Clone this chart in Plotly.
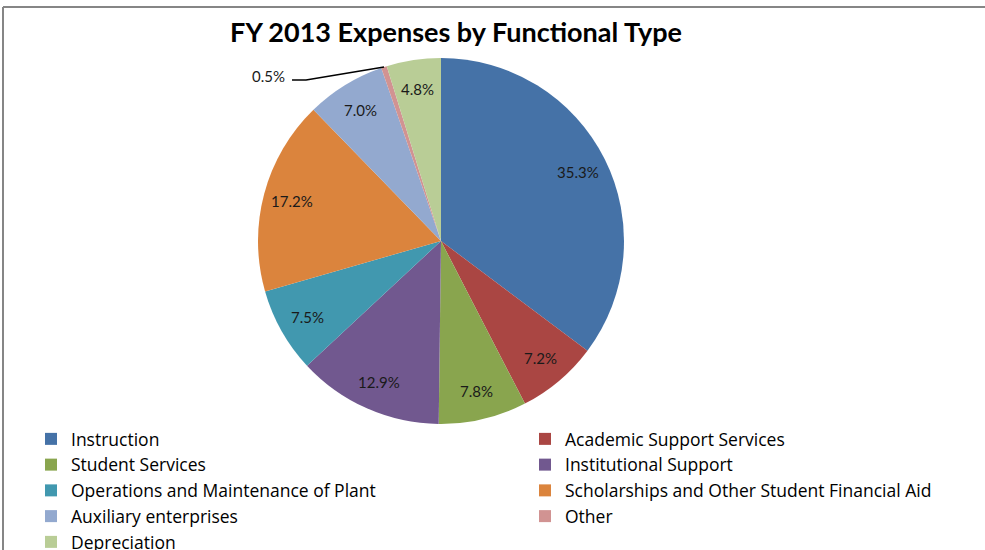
import math
import plotly.graph_objects as go

W, H = 985, 550

categories = [
    "Instruction",
    "Academic Support Services",
    "Student Services",
    "Institutional Support",
    "Operations and Maintenance of Plant",
    "Scholarships and Other Student Financial Aid",
    "Auxiliary enterprises",
    "Other",
    "Depreciation",
]
percent_values = [35.3, 7.2, 7.8, 12.9, 7.5, 17.2, 7.0, 0.5, 4.8]
slice_colors = [
    "#4572A7", "#AA4643", "#89A54E", "#71588F", "#4198AF",
    "#DB843D", "#93A9CF", "#D19392", "#B9CD96",
]
title_text = "FY 2013 Expenses by Functional Type"

# pie geometry in pixels (top-left origin)
cx, cy, r = 441, 241, 183
LABEL_R = 0.84 * r
FONT = "Lato, 'Open Sans', sans-serif"
LEGEND_FONT = "'Open Sans', Lato, sans-serif"


def px_x(x):
    return x / W


def px_y(y):
    return 1 - y / H


texts = [f"{v:.1f}%" for v in percent_values]
small = categories.index("Other")

fig = go.Figure(
    go.Pie(
        labels=categories,
        values=percent_values,
        textinfo="none",
        marker=dict(colors=slice_colors, line=dict(width=0)),
        sort=False,
        direction="clockwise",
        rotation=0,
        domain=dict(x=[px_x(cx - r), px_x(cx + r)], y=[px_y(cy + r), px_y(cy - r)]),
        showlegend=True,
        hovertemplate="%{label}: %{value:.1f}%<extra></extra>",
    )
)

# percentage labels placed at each slice's mid-angle
total = sum(percent_values)
label_font = dict(family=FONT, size=15, color="#1a1a1a")
start = 0.0
for i, v in enumerate(percent_values):
    ang = 2 * math.pi * (start + v / 2) / total
    start += v
    if i == small:
        # tiny slice: label outside with a leader line from the arc
        ex, ey = cx + r * math.sin(ang), cy - r * math.cos(ang)
        kx, ky = ex - 78, ey + 13
        lx, ly = kx - 14, ky
        fig.add_shape(
            type="path", xref="paper", yref="paper",
            path=f"M {px_x(ex)},{px_y(ey)} L {px_x(kx)},{px_y(ky)} L {px_x(lx)},{px_y(ly)}",
            line=dict(color="#000000", width=1.5),
        )
        fig.add_annotation(
            x=px_x(lx - 5), y=px_y(ly - 4), xref="paper", yref="paper",
            text=texts[i], showarrow=False, xanchor="right", yanchor="middle",
            font=label_font,
        )
        continue
    tx, ty = cx + LABEL_R * math.sin(ang), cy - LABEL_R * math.cos(ang)
    fig.add_annotation(
        x=px_x(tx), y=px_y(ty), xref="paper", yref="paper",
        text=texts[i], showarrow=False, xanchor="center", yanchor="middle",
        font=label_font,
    )

# chart frame (left and top edges)
frame = dict(color="#868686", width=2)
fig.add_shape(type="line", xref="paper", yref="paper",
              x0=px_x(3), x1=px_x(3), y0=px_y(7), y1=px_y(560), line=frame)
fig.add_shape(type="line", xref="paper", yref="paper",
              x0=px_x(3), x1=px_x(990), y0=px_y(7), y1=px_y(7), line=frame)

fig.update_layout(
    width=W, height=H,
    margin=dict(l=0, r=0, t=0, b=0, autoexpand=False),
    paper_bgcolor="white",
    plot_bgcolor="white",
    title=dict(
        text=f"<b>{title_text}</b>",
        x=px_x(456), xanchor="center",
        y=px_y(33), yanchor="middle",
        font=dict(family=FONT, size=27, color="#000000"),
    ),
    legend=dict(
        orientation="h",
        x=px_x(31), xanchor="left",
        y=px_y(421), yanchor="top",
        entrywidth=449, entrywidthmode="pixels",
        font=dict(family=LEGEND_FONT, size=17.5, color="#000000"),
        traceorder="normal",
        itemclick=False,
        bgcolor="rgba(0,0,0,0)",
    ),
)

fig.write_html("out.html")
